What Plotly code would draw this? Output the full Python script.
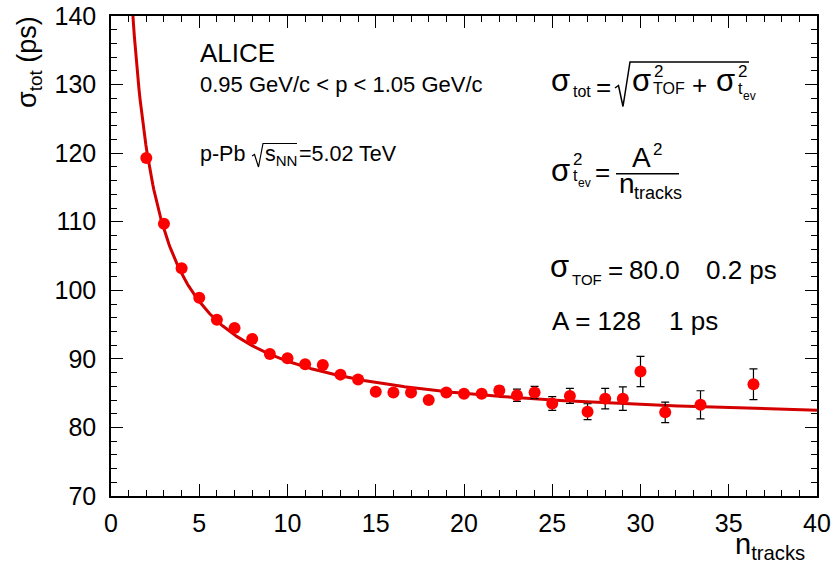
import numpy as np
import plotly.graph_objects as go

# ---- data ----
n_tracks = [2, 3, 4, 5, 6, 7, 8, 9, 10, 11, 12, 13, 14, 15, 16, 17, 18, 19, 20,
            21, 22, 23, 24, 25, 26, 27, 28, 29, 30, 31.4, 33.4, 36.4]
sigma_tot = [119.3, 109.7, 103.2, 98.9, 95.7, 94.5, 92.9, 90.7, 90.1, 89.2, 89.1,
             87.7, 87.0, 85.2, 85.1, 85.1, 84.0, 85.1, 84.9, 84.9, 85.4, 84.7,
             85.1, 83.5, 84.6, 82.3, 84.2, 84.2, 88.15, 82.2, 83.3, 86.3]
sigma_err = [0.2, 0.2, 0.2, 0.2, 0.2, 0.2, 0.2, 0.2, 0.2, 0.2, 0.2, 0.2, 0.2,
             0.2, 0.3, 0.3, 0.3, 0.3, 0.4, 0.4, 0.6, 0.9, 0.9, 1.0, 1.1, 1.15,
             1.5, 1.7, 2.2, 1.5, 2.05, 2.25]
x_ticks = [0, 5, 10, 15, 20, 25, 30, 35, 40]
y_ticks = [70, 80, 90, 100, 110, 120, 130, 140]

# fit parameters shown on the chart
SIGMA_TOF = 80.0
A_PAR = 128.0

W, H = 836, 576
L, R, T, B = 111, 817, 16, 496
FONT = "Liberation Sans, Arial, Helvetica, sans-serif"


def px(x):
    return (x - L) / (R - L)


def py(y):
    return (B - y) / (B - T)


fit_x = np.linspace(1.0, 40.0, 600)
fit_y = np.sqrt(SIGMA_TOF ** 2 + A_PAR ** 2 / fit_x)

fig = go.Figure()
fig.add_trace(go.Scatter(x=fit_x, y=fit_y, mode="lines",
                         line=dict(color="#d40000", width=3),
                         hoverinfo="skip", showlegend=False))
fig.add_trace(go.Scatter(x=n_tracks, y=sigma_tot, mode="markers",
                         marker=dict(color="#ff0000", size=12, line=dict(width=0)),
                         error_y=dict(type="data", array=sigma_err, color="black",
                                      thickness=1.2, width=4),
                         showlegend=False))

annotations = []


def txt(x, y, text, size, xanchor="left", yanchor="middle", angle=0):
    annotations.append(dict(x=px(x), y=py(y), xref="paper", yref="paper",
                            text=text, showarrow=False, xanchor=xanchor,
                            yanchor=yanchor, textangle=angle, borderpad=0,
                            font=dict(family=FONT, size=size, color="black")))


SIG = 31   # greek sigma size
SUB = 16   # subscript size
MAIN = 26  # main formula text size

# Left block
txt(199, 52.5, "ALICE", 26)
txt(199, 84, "0.95 GeV/c &lt; p &lt; 1.05 GeV/c", 22)
txt(199, 154, "p-Pb", 21.5)
txt(264, 156, "s<sub>NN</sub>", 21.5)
txt(298, 154, "=5.02 TeV", 21.5)

# Formula line 1
txt(550, 81, "σ", SIG)
txt(572, 91.5, "tot", SUB)
txt(595, 86.7, "=", MAIN)
txt(631, 81, "σ", SIG)
txt(652.5, 71.5, "2", SUB + 1)
txt(652, 88.5, "TOF", SUB)
txt(691, 85, "+", MAIN)
txt(715, 81, "σ", SIG)
txt(736.5, 71.5, "2", SUB + 1)
txt(737, 88.5, "t", SUB)
txt(741.5, 95.5, "ev", 12)

# Formula line 2
txt(550, 170, "σ", SIG)
txt(571.5, 159.5, "2", SUB + 1)
txt(572, 175, "t", SUB)
txt(577, 183, "ev", 12)
txt(594, 171.7, "=", MAIN)
txt(641, 158, "A", 28, xanchor="center")
txt(652, 149, "2", SUB + 1)
txt(618, 183.6, "n", MAIN + 2)
txt(633, 192.5, "tracks", 18)

# Fit results
txt(549, 266, "σ", SIG)
txt(571, 279, "TOF", 15)
txt(607, 270, "=", MAIN)
txt(628, 270, "80.0", MAIN)
txt(705, 270, "0.2 ps", MAIN)
txt(551, 321, "A = 128", MAIN)
txt(668, 321, "1 ps", MAIN)

# axis titles
txt(29, 62, "σ<sub>tot</sub> (ps)", 27, xanchor="center", angle=-90)
txt(806, 546, "n<sub>tracks</sub>", 29, xanchor="right")

shapes = []


def path(points, width=1.5):
    d = "M " + " L ".join(f"{px(a):.5f},{py(b):.5f}" for a, b in points)
    shapes.append(dict(type="path", path=d, xref="paper", yref="paper",
                       line=dict(color="black", width=width)))


# radical in formula line 1
path([(615, 88), (618.5, 85.5), (623, 106.5), (630, 62), (749, 62)], 1.5)
# fraction bar
path([(616, 173.8), (679, 173.8)], 1.6)
# radical in sqrt(s_NN)
path([(252, 156), (254.5, 154.5), (258.5, 167), (263, 143.5), (297, 143.5)], 1.2)

axis_common = dict(showgrid=False, zeroline=False, showline=True,
                   linecolor="black", linewidth=1.5, mirror="allticks",
                   ticks="inside", ticklen=12, tickwidth=1, tickcolor="black",
                   tickfont=dict(family=FONT, size=25, color="black"),
                   automargin=False)

fig.update_layout(
    width=W, height=H,
    margin=dict(l=L, r=W - R, t=T, b=H - B, pad=0),
    paper_bgcolor="white", plot_bgcolor="white",
    xaxis=dict(range=[0, 40], tickvals=x_ticks,
               ticktext=[str(v) for v in x_ticks],
               minor=dict(ticks="inside", dtick=1, ticklen=6, tickcolor="black", tickwidth=1),
               ticklabelstandoff=4, **axis_common),
    yaxis=dict(range=[70, 140], tickvals=y_ticks,
               ticktext=[str(v) for v in y_ticks],
               minor=dict(ticks="inside", dtick=2, ticklen=6, tickcolor="black", tickwidth=1),
               ticklabelstandoff=8, **axis_common),
    annotations=annotations, shapes=shapes,
)

fig.write_html("out.html", config={"displayModeBar": False},
               post_script="document.body.style.margin='0px';"
                           "document.body.style.overflow='hidden';")
